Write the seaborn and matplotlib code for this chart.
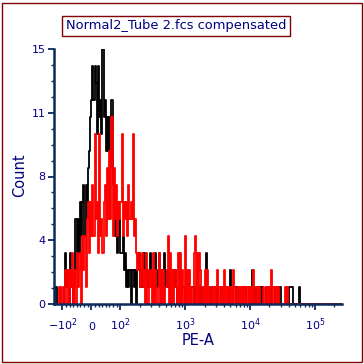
import numpy as np
import pandas as pd
import matplotlib
matplotlib.use("Agg")
import matplotlib.pyplot as plt
from matplotlib.scale import SymmetricalLogTransform
from matplotlib.patches import Rectangle
from matplotlib.ticker import FixedLocator, MultipleLocator
import seaborn as sns

# counts per channel (256 channels over the PE-A range)
black_counts = [
    0, 1, 1, 0, 0, 0, 0, 0, 0, 1,
    3, 1, 2, 0, 3, 1, 2, 0, 1, 5,
    2, 5, 3, 6, 4, 6, 7, 4, 7, 5,
    8, 9, 11, 12, 14, 12, 14, 13, 10, 14,
    11, 12, 10, 15, 11, 12, 9, 11, 9, 11,
    8, 12, 7, 6, 4, 5, 3, 4, 5, 3,
    3, 4, 2, 3, 1, 2, 1, 2, 0, 2,
    2, 1, 2, 0, 2, 3, 1, 2, 1, 3,
    3, 1, 2, 1, 2, 3, 1, 2, 1, 2,
    3, 1, 2, 3, 1, 2, 1, 2, 3, 1,
    2, 1, 2, 1, 2, 0, 1, 2, 1, 0,
    1, 2, 1, 0, 1, 1, 0, 1, 0, 1,
    0, 1, 1, 1, 0, 1, 0, 1, 1, 0,
    1, 0, 1, 0, 1, 3, 1, 0, 1, 0,
    1, 0, 1, 1, 0, 1, 0, 0, 1, 0,
    1, 0, 1, 0, 1, 0, 2, 1, 0, 1,
    1, 1, 0, 1, 0, 0, 1, 0, 1, 0,
    1, 0, 0, 1, 0, 1, 2, 0, 1, 0,
    1, 0, 0, 1, 0, 1, 0, 0, 1, 0,
    0, 1, 0, 0, 1, 1, 0, 1, 1, 0,
    1, 1, 0, 0, 0, 0, 0, 0, 0, 1,
    1, 1, 0, 0, 0, 0, 0, 0, 1, 0,
]
red_counts = [
    0, 0, 0, 0, 1, 0, 1, 0, 0, 1,
    2, 0, 2, 0, 2, 1, 3, 0, 2, 0,
    3, 1, 2, 3, 0, 4, 2, 4, 1, 5,
    6, 3, 6, 4, 7, 4, 10, 5, 6, 3,
    10, 4, 5, 3, 6, 7, 4, 8, 5, 9,
    5, 11, 4, 8, 5, 7, 4, 6, 5, 6,
    10, 4, 6, 5, 6, 4, 7, 5, 6, 5,
    10, 4, 5, 3, 2, 3, 1, 2, 3, 1,
    2, 0, 3, 0, 2, 1, 2, 0, 3, 0,
    2, 0, 1, 3, 0, 2, 0, 2, 0, 1,
    2, 4, 0, 3, 0, 2, 0, 2, 1, 0,
    3, 0, 3, 0, 2, 0, 4, 0, 2, 0,
    2, 0, 1, 0, 3, 4, 0, 3, 0, 3,
    2, 0, 1, 0, 2, 0, 2, 0, 1, 0,
    1, 0, 1, 0, 1, 2, 0, 1, 0, 1,
    0, 2, 0, 1, 0, 1, 0, 1, 0, 2,
    1, 0, 0, 1, 0, 1, 0, 1, 0, 1,
    0, 1, 0, 1, 0, 1, 0, 2, 1, 0,
    1, 0, 1, 0, 0, 0, 1, 0, 1, 0,
    1, 0, 1, 2, 0, 1, 0, 1, 0, 1,
    0, 0, 0, 0, 0, 1, 0, 1, 0, 0,
]

n_channels = 256
x_min, x_max = -135, 262144
x_ticks = [-100, 0, 100, 1000, 10000, 100000]
x_labels = [r"$-10^2$", "0", r"$10^2$", r"$10^3$", r"$10^4$", r"$10^5$"]
y_ticks = [0, 3.75, 7.5, 11.25, 15]
y_labels = ["0", "4", "8", "11", "15"]
title = "Normal2_Tube 2.fcs compensated"

navy = "#000080"
axis_col = "#0c2a5c"
frame_col = "#800000"

black = black_counts + [0] * (n_channels - len(black_counts))
red = red_counts + [0] * (n_channels - len(red_counts))

# channel edges evenly spaced on the display (biexponential-like) scale
tr = SymmetricalLogTransform(10, 100, 0.4)
lo, hi = tr.transform(np.array([x_min, x_max], float))
pos = np.linspace(lo, hi, n_channels + 1)
edges = list(tr.inverted().transform(pos))
centers = tr.inverted().transform((pos[:-1] + pos[1:]) / 2)

df_black = pd.DataFrame({"pe": centers, "count": black})
df_red = pd.DataFrame({"pe": centers, "count": red})

sns.set_style("white")
plt.rcParams["font.family"] = ["DejaVu Sans"]

fig = plt.figure(figsize=(3.64, 3.64), dpi=100)
ax = fig.add_axes([54 / 364, 1 - 304 / 364, 288 / 364, 255 / 364])

# histogram on a linear axis first, then switch the axis to symlog
sns.histplot(data=df_black, x="pe", weights="count", bins=edges, element="step",
             fill=False, color="black", linewidth=1.3, ax=ax)
sns.histplot(data=df_red, x="pe", weights="count", bins=edges, element="step",
             fill=False, color="#ff0000", linewidth=1.3, ax=ax)
ax.set_xscale("symlog", linthresh=100, linscale=0.4)

ax.set_xlim(x_min, x_max)
ax.set_ylim(0, 15)

for s in ["top", "right"]:
    ax.spines[s].set_visible(False)
for s in ["left", "bottom"]:
    ax.spines[s].set_color(axis_col)
    ax.spines[s].set_linewidth(1.8)
    ax.spines[s].set_zorder(5)

ax.xaxis.set_major_locator(FixedLocator(x_ticks))
ax.set_xticklabels(x_labels)
minors = [m * 10 ** k for k in range(2, 6) for m in range(2, 10) if m * 10 ** k < x_max]
minors += [v for v in np.arange(-87.5, 90, 12.5) if abs(v) > 1]
ax.xaxis.set_minor_locator(FixedLocator(minors))

ax.set_yticks(y_ticks)
ax.set_yticklabels(y_labels)
ax.yaxis.set_minor_locator(MultipleLocator(15 / 16))

ax.tick_params(axis="both", which="major", direction="out", length=4.5, width=1.3,
               color=axis_col, labelcolor=navy, labelsize=8, pad=1.5)
ax.tick_params(axis="x", which="major", pad=14.0)
ax.tick_params(axis="both", which="minor", direction="out", length=2.2, width=1.0,
               color=axis_col)
ax.tick_params(left=True, bottom=True, which="both")
for t in ax.get_xticklabels():
    t.set_verticalalignment("baseline")

ax.set_xlabel("PE-A", color=navy, fontsize=10.5)
ax.set_ylabel("Count", color=navy, fontsize=10.5)
ax.xaxis.set_label_coords(0.5, -0.112)
ax.yaxis.set_label_coords(-0.093, 0.506)

fig.text(176 / 364, 1 - 26 / 364, title, ha="center", va="center", color=navy,
         fontsize=9.4,
         bbox=dict(boxstyle="square,pad=0.3", fc="white", ec=frame_col, lw=1))

fig.patches.append(Rectangle((1.5 / 364, 2.5 / 364), 360 / 364, 359 / 364,
                             transform=fig.transFigure, fill=False,
                             ec=frame_col, lw=1.0))

fig.savefig("out.png", dpi=100, facecolor="white")
